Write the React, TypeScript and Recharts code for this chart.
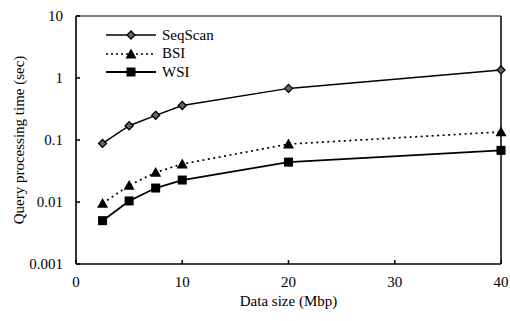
import React from "react";
import { LineChart, Line, XAxis, YAxis, Legend, ReferenceLine } from "recharts";

const dataSizes = [2.5, 5, 7.5, 10, 20, 40];
const seqScan = [0.088, 0.17, 0.25, 0.36, 0.68, 1.35];
const bsi = [0.0095, 0.0185, 0.03, 0.041, 0.086, 0.135];
const wsi = [0.005, 0.0104, 0.0168, 0.0226, 0.044, 0.068];
const xTicks = [0, 10, 20, 30, 40];
const yTicks = [0.001, 0.01, 0.1, 1, 10];
const seriesNames = ["SeqScan", "BSI", "WSI"];

const data = dataSizes.map((x, i) => ({
  x,
  seq: seqScan[i],
  bsi: bsi[i],
  wsi: wsi[i],
}));

const FONT = "'Liberation Serif', 'Times New Roman', serif";

const Diamond = (props: any) => {
  const { cx, cy } = props;
  if (cx == null || cy == null) return null;
  const r = 4;
  return (
    <path
      d={`M${cx},${cy - r}L${cx + r},${cy}L${cx},${cy + r}L${cx - r},${cy}Z`}
      fill="#666"
      stroke="#000"
      strokeWidth={1.3}
    />
  );
};

const Triangle = (props: any) => {
  const { cx, cy } = props;
  if (cx == null || cy == null) return null;
  const r = 5.5;
  return (
    <path
      d={`M${cx},${cy - r}L${cx + r},${cy + r * 0.8}L${cx - r},${cy + r * 0.8}Z`}
      fill="#000"
    />
  );
};

const Square = (props: any) => {
  const { cx, cy } = props;
  if (cx == null || cy == null) return null;
  const r = 4.5;
  return <rect x={cx - r} y={cy - r} width={r * 2} height={r * 2} fill="#000" />;
};

const LegendContent = () => {
  const rows = [
    { dash: undefined, w: 1.4, Marker: Diamond },
    { dash: "2 3", w: 1.6, Marker: Triangle },
    { dash: undefined, w: 1.8, Marker: Square },
  ];
  return (
    <div style={{ fontFamily: FONT, fontSize: 15, color: "#000" }}>
      {rows.map((r, i) => (
        <div key={i} style={{ display: "flex", alignItems: "center", height: 18.5 }}>
          <svg width={54} height={14}>
            <line x1={0} y1={7} x2={50} y2={7} stroke="#000" strokeWidth={r.w} strokeDasharray={r.dash} />
            <r.Marker cx={25} cy={7} />
          </svg>
          <span style={{ marginLeft: 2, fontFamily: FONT }}>{seriesNames[i]}</span>
        </div>
      ))}
    </div>
  );
};

export default function App() {
  return (
    <div style={{ position: "absolute", left: 0, top: 0, background: "#fff", fontFamily: FONT }}>
      <LineChart
        width={510}
        height={321}
        data={data}
        margin={{ top: 16, right: 9, left: 0, bottom: 0 }}
      >
        <XAxis
          dataKey="x"
          type="number"
          domain={[0, 40]}
          ticks={xTicks}
          height={57}
          stroke="#000"
          strokeWidth={1.6}
          tickSize={-4}
          tickMargin={16}
          tick={{ fill: "#000", fontSize: 15, fontFamily: FONT }}
          label={{
            content: ({ viewBox }: any) => (
              <text
                x={viewBox.x + viewBox.width / 2}
                y={viewBox.y + 42}
                textAnchor="middle"
                fontFamily={FONT}
                fontSize={15}
                fill="#000"
              >
                Data size (Mbp)
              </text>
            ),
          }}
        />
        <YAxis
          scale="log"
          domain={[0.001, 10]}
          ticks={yTicks}
          allowDataOverflow
          width={76}
          stroke="#000"
          strokeWidth={1.6}
          tickSize={-4}
          tickMargin={17}
          tickFormatter={(v: number) => String(v)}
          tick={{ fill: "#000", fontSize: 15, fontFamily: FONT }}
          label={{
            content: ({ viewBox }: any) => {
              const cx = viewBox.x + 19;
              const cy = viewBox.y + viewBox.height / 2;
              return (
                <text
                  x={cx}
                  y={cy}
                  transform={`rotate(-90, ${cx}, ${cy})`}
                  textAnchor="middle"
                  dominantBaseline="central"
                  fontFamily={FONT}
                  fontSize={15}
                  fill="#000"
                >
                  Query processing time (sec)
                </text>
              );
            },
          }}
        />
        <ReferenceLine x={40} stroke="#000" strokeWidth={1.5} />
        <ReferenceLine y={10} stroke="#000" strokeWidth={1.2} />
        <Legend
          verticalAlign="middle"
          align="center"
          layout="vertical"
          wrapperStyle={{ left: 106, top: 26, width: 120 }}
          content={<LegendContent />}
        />
        <Line
          dataKey="seq"
          name="SeqScan"
          stroke="#000"
          strokeWidth={1.5}
          dot={<Diamond />}
          isAnimationActive={false}
        />
        <Line
          dataKey="bsi"
          name="BSI"
          stroke="#000"
          strokeWidth={1.7}
          strokeDasharray="2 3.5"
          dot={<Triangle />}
          isAnimationActive={false}
        />
        <Line
          dataKey="wsi"
          name="WSI"
          stroke="#000"
          strokeWidth={1.8}
          dot={<Square />}
          isAnimationActive={false}
        />
      </LineChart>
    </div>
  );
}
